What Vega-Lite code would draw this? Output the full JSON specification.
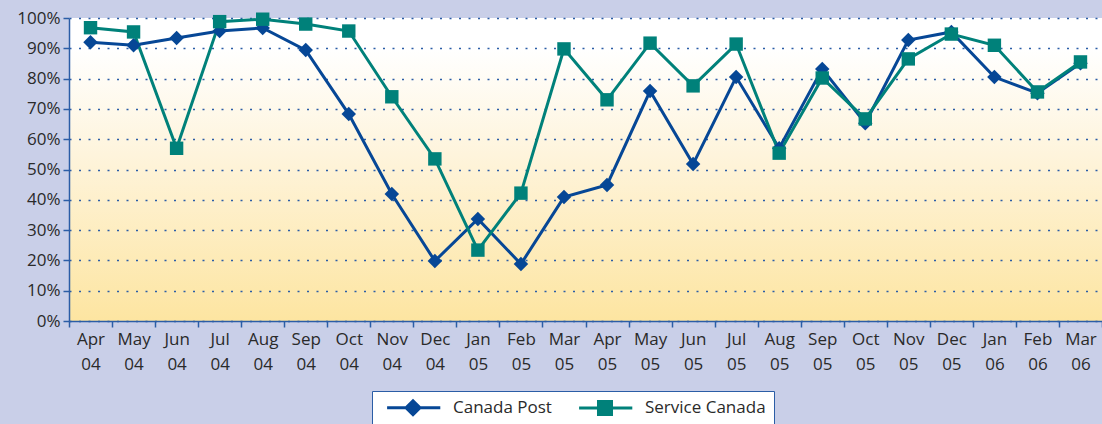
{
  "$schema": "https://vega.github.io/schema/vega-lite/v6.json",
  "autosize": {"type": "none"},
  "padding": {"left": 69, "top": 18, "right": 0, "bottom": 103},
  "width": 1033,
  "height": 303,
  "background": "#c9cfe8",
  "config": {
    "font": "Open Sans",
    "view": {
      "stroke": null,
      "fill": {
        "gradient": "linear",
        "x1": 0, "y1": 0, "x2": 0, "y2": 1,
        "stops": [
          {"offset": 0, "color": "#ffffff"},
          {"offset": 0.1, "color": "#ffffff"},
          {"offset": 0.45, "color": "#fef4dc"},
          {"offset": 1, "color": "#fde5a1"}
        ]
      }
    },
    "axis": {
      "domainColor": "#2b5da6",
      "domainWidth": 1.5,
      "tickColor": "#2b5da6",
      "tickWidth": 1.5,
      "tickSize": 6,
      "labelFont": "Open Sans",
      "labelFontSize": 17,
      "labelColor": "#2a2a2a",
      "title": null
    }
  },
  "data": {
    "values": [
      {"month": "Apr 04", "series": "Canada Post", "value": 92},
      {"month": "May 04", "series": "Canada Post", "value": 91},
      {"month": "Jun 04", "series": "Canada Post", "value": 93.4},
      {"month": "Jul 04", "series": "Canada Post", "value": 95.7},
      {"month": "Aug 04", "series": "Canada Post", "value": 96.7},
      {"month": "Sep 04", "series": "Canada Post", "value": 89.4},
      {"month": "Oct 04", "series": "Canada Post", "value": 68.3},
      {"month": "Nov 04", "series": "Canada Post", "value": 41.9},
      {"month": "Dec 04", "series": "Canada Post", "value": 19.8},
      {"month": "Jan 05", "series": "Canada Post", "value": 33.7},
      {"month": "Feb 05", "series": "Canada Post", "value": 18.8},
      {"month": "Mar 05", "series": "Canada Post", "value": 40.9},
      {"month": "Apr 05", "series": "Canada Post", "value": 44.9},
      {"month": "May 05", "series": "Canada Post", "value": 75.9},
      {"month": "Jun 05", "series": "Canada Post", "value": 51.8},
      {"month": "Jul 05", "series": "Canada Post", "value": 80.5},
      {"month": "Aug 05", "series": "Canada Post", "value": 57},
      {"month": "Sep 05", "series": "Canada Post", "value": 83.2},
      {"month": "Oct 05", "series": "Canada Post", "value": 65.3},
      {"month": "Nov 05", "series": "Canada Post", "value": 92.7},
      {"month": "Dec 05", "series": "Canada Post", "value": 95.4},
      {"month": "Jan 06", "series": "Canada Post", "value": 80.5},
      {"month": "Feb 06", "series": "Canada Post", "value": 75.2},
      {"month": "Mar 06", "series": "Canada Post", "value": 85.1},
      {"month": "Apr 04", "series": "Service Canada", "value": 96.8},
      {"month": "May 04", "series": "Service Canada", "value": 95.4},
      {"month": "Jun 04", "series": "Service Canada", "value": 57},
      {"month": "Jul 04", "series": "Service Canada", "value": 98.8},
      {"month": "Aug 04", "series": "Service Canada", "value": 99.6},
      {"month": "Sep 04", "series": "Service Canada", "value": 98},
      {"month": "Oct 04", "series": "Service Canada", "value": 95.7},
      {"month": "Nov 04", "series": "Service Canada", "value": 74},
      {"month": "Dec 04", "series": "Service Canada", "value": 53.5},
      {"month": "Jan 05", "series": "Service Canada", "value": 23.4},
      {"month": "Feb 05", "series": "Service Canada", "value": 42.2},
      {"month": "Mar 05", "series": "Service Canada", "value": 89.8},
      {"month": "Apr 05", "series": "Service Canada", "value": 73},
      {"month": "May 05", "series": "Service Canada", "value": 91.7},
      {"month": "Jun 05", "series": "Service Canada", "value": 77.6},
      {"month": "Jul 05", "series": "Service Canada", "value": 91.4},
      {"month": "Aug 05", "series": "Service Canada", "value": 55.4},
      {"month": "Sep 05", "series": "Service Canada", "value": 80.2},
      {"month": "Oct 05", "series": "Service Canada", "value": 66.7},
      {"month": "Nov 05", "series": "Service Canada", "value": 86.5},
      {"month": "Dec 05", "series": "Service Canada", "value": 94.7},
      {"month": "Jan 06", "series": "Service Canada", "value": 91},
      {"month": "Feb 06", "series": "Service Canada", "value": 75.6},
      {"month": "Mar 06", "series": "Service Canada", "value": 85.5}
    ]
  },
  "encoding": {
    "x": {
      "field": "month",
      "type": "nominal",
      "sort": null,
      "scale": {"paddingInner": 0, "paddingOuter": 0},
      "axis": {
        "labelAngle": 0,
        "tickBand": "extent",
        "labelExpr": "split(datum.label, ' ')",
        "labelLineHeight": 25,
        "labelBaseline": "top",
        "labelPadding": 4,
        "domain": true
      }
    },
    "y": {
      "field": "value",
      "type": "quantitative",
      "scale": {"domain": [0, 100], "nice": false},
      "axis": {
        "values": [0, 10, 20, 30, 40, 50, 60, 70, 80, 90, 100],
        "labelExpr": "datum.value + '%'",
        "labelPadding": 3,
        "grid": true,
        "gridColor": "#2b5da6",
        "gridWidth": 1.5,
        "gridDash": [2, 7.5],
        "gridOpacity": 1
      }
    },
    "color": {
      "field": "series",
      "type": "nominal",
      "scale": {"domain": ["Canada Post", "Service Canada"], "range": ["#064796", "#00817a"]},
      "legend": {
        "orient": "none",
        "direction": "horizontal",
        "legendX": 303,
        "legendY": 373,
        "title": null,
        "padding": 8,
        "fillColor": "#ffffff",
        "strokeColor": "#2b5da6",
        "labelFont": "Open Sans",
        "labelFontSize": 17,
        "labelColor": "#2a2a2a",
        "symbolSize": 196,
        "symbolStrokeWidth": 3,
        "labelOffset": 56,
        "columnPadding": 20,
        "encode": {
          "symbols": {
            "update": {
              "shape": {"signal": "datum.value === 'Canada Post' ? 'M-0.2,0H7.4M2.5,0L3.5,-1L4.5,0L3.5,1Z' : 'M-0.2,0H7.4M2.57,-0.93H4.43V0.93H2.57Z'"},
              "fill": {"signal": "scale('color', datum.value)"},
              "stroke": {"signal": "scale('color', datum.value)"},
              "strokeWidth": {"value": 3},
              "size": {"value": 196},
              "opacity": {"value": 1},
              "fillOpacity": {"value": 1},
              "strokeOpacity": {"value": 1}
            }
          }
        }
      }
    }
  },
  "layer": [
    {
      "mark": {"type": "line", "strokeWidth": 3}
    },
    {
      "transform": [{"filter": "datum.series === 'Canada Post'"}],
      "mark": {"type": "point", "filled": true, "opacity": 1, "shape": "diamond", "size": 210}
    },
    {
      "transform": [{"filter": "datum.series === 'Service Canada'"}],
      "mark": {"type": "point", "filled": true, "opacity": 1, "shape": "square", "size": 180}
    }
  ]
}
